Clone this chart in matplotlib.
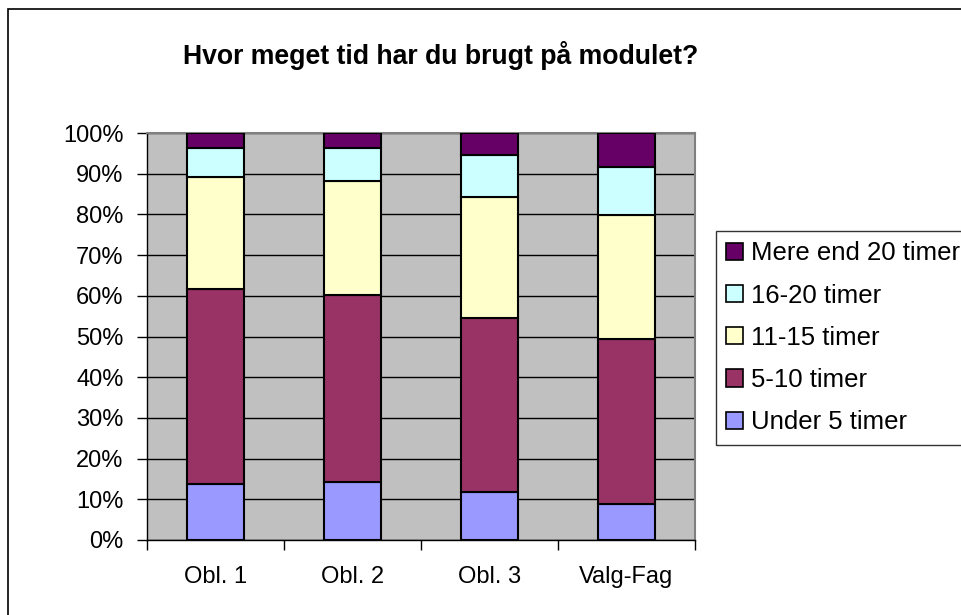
import matplotlib
matplotlib.use('Agg')
import matplotlib.pyplot as plt
from matplotlib.patches import Rectangle, Patch
from matplotlib.ticker import FuncFormatter, FixedLocator

# Kategorier og serier (procent)
kategorier = ['Obl. 1', 'Obl. 2', 'Obl. 3', 'Valg-Fag']
serier = ['Under 5 timer', '5-10 timer', '11-15 timer', '16-20 timer', 'Mere end 20 timer']
under_5 = [13.8, 14.3, 11.7, 8.9]
t_5_10 = [47.8, 45.8, 42.9, 40.4]
t_11_15 = [27.6, 28.1, 29.6, 30.5]
t_16_20 = [7.2, 8.2, 10.4, 11.8]
over_20 = [3.6, 3.6, 5.4, 8.4]
farver = ['#9999FF', '#993366', '#FFFFCC', '#CCFFFF', '#660066']

plt.rcParams['font.family'] = ['Liberation Sans', 'DejaVu Sans']

fig = plt.figure(figsize=(9.61, 6.15), dpi=100)
ax = fig.add_axes([147/961, 1-540/615, 548/961, 407/615])
ax.set_facecolor('#C0C0C0')

x = range(len(kategorier))
bund = [0]*len(kategorier)
for vaerdier, farve in zip([under_5, t_5_10, t_11_15, t_16_20, over_20], farver):
    ax.bar(x, vaerdier, width=0.41, bottom=bund, color=farve,
           edgecolor='black', linewidth=1.5, zorder=3)
    bund = [b + v for b, v in zip(bund, vaerdier)]

ax.set_xlim(-0.5, len(kategorier)-0.5)
ax.set_ylim(0, 100)
ax.set_yticks(range(0, 101, 10))
ax.yaxis.set_major_formatter(FuncFormatter(lambda v, p: f'{int(v)}%'))
ax.grid(axis='y', color='black', linewidth=1, zorder=1)
ax.set_axisbelow(True)

ax.set_xticks(list(x))
ax.set_xticklabels(kategorier)
ax.xaxis.set_minor_locator(FixedLocator([i - 0.5 for i in range(len(kategorier)+1)]))
ax.tick_params(axis='x', which='major', length=0, pad=19, labelsize=17)
ax.tick_params(axis='x', which='minor', length=7, width=1, direction='out')
ax.tick_params(axis='y', length=7, width=1, direction='out', pad=10, labelsize=17)

for side in ['top', 'right']:
    ax.spines[side].set_color('#808080')
    ax.spines[side].set_linewidth(1.5)
for side in ['left', 'bottom']:
    ax.spines[side].set_color('black')
    ax.spines[side].set_linewidth(1)

fig.text(441/961, 1-55/615, 'Hvor meget tid har du brugt på modulet?',
         ha='center', va='center', fontsize=19.2, fontweight='bold')

handles = [Patch(facecolor=f, edgecolor='black', linewidth=1.2) for f in farver]
leg = fig.legend(handles[::-1], serier[::-1], loc='upper left',
                 bbox_to_anchor=(716/961, 1-231/615), fontsize=18.5,
                 frameon=True, fancybox=False, edgecolor='black',
                 handlelength=0.65, handleheight=0.65, handletextpad=0.3,
                 labelspacing=0.71, borderpad=0.4, borderaxespad=0)
leg.get_frame().set_linewidth(1)

# ydre ramme
fig.patches.append(Rectangle((8/961, -0.1), 1.2, 1.1 - 9/615,
                             transform=fig.transFigure, fill=False,
                             edgecolor='black', linewidth=1.2))

fig.savefig('out.png', dpi=100)
